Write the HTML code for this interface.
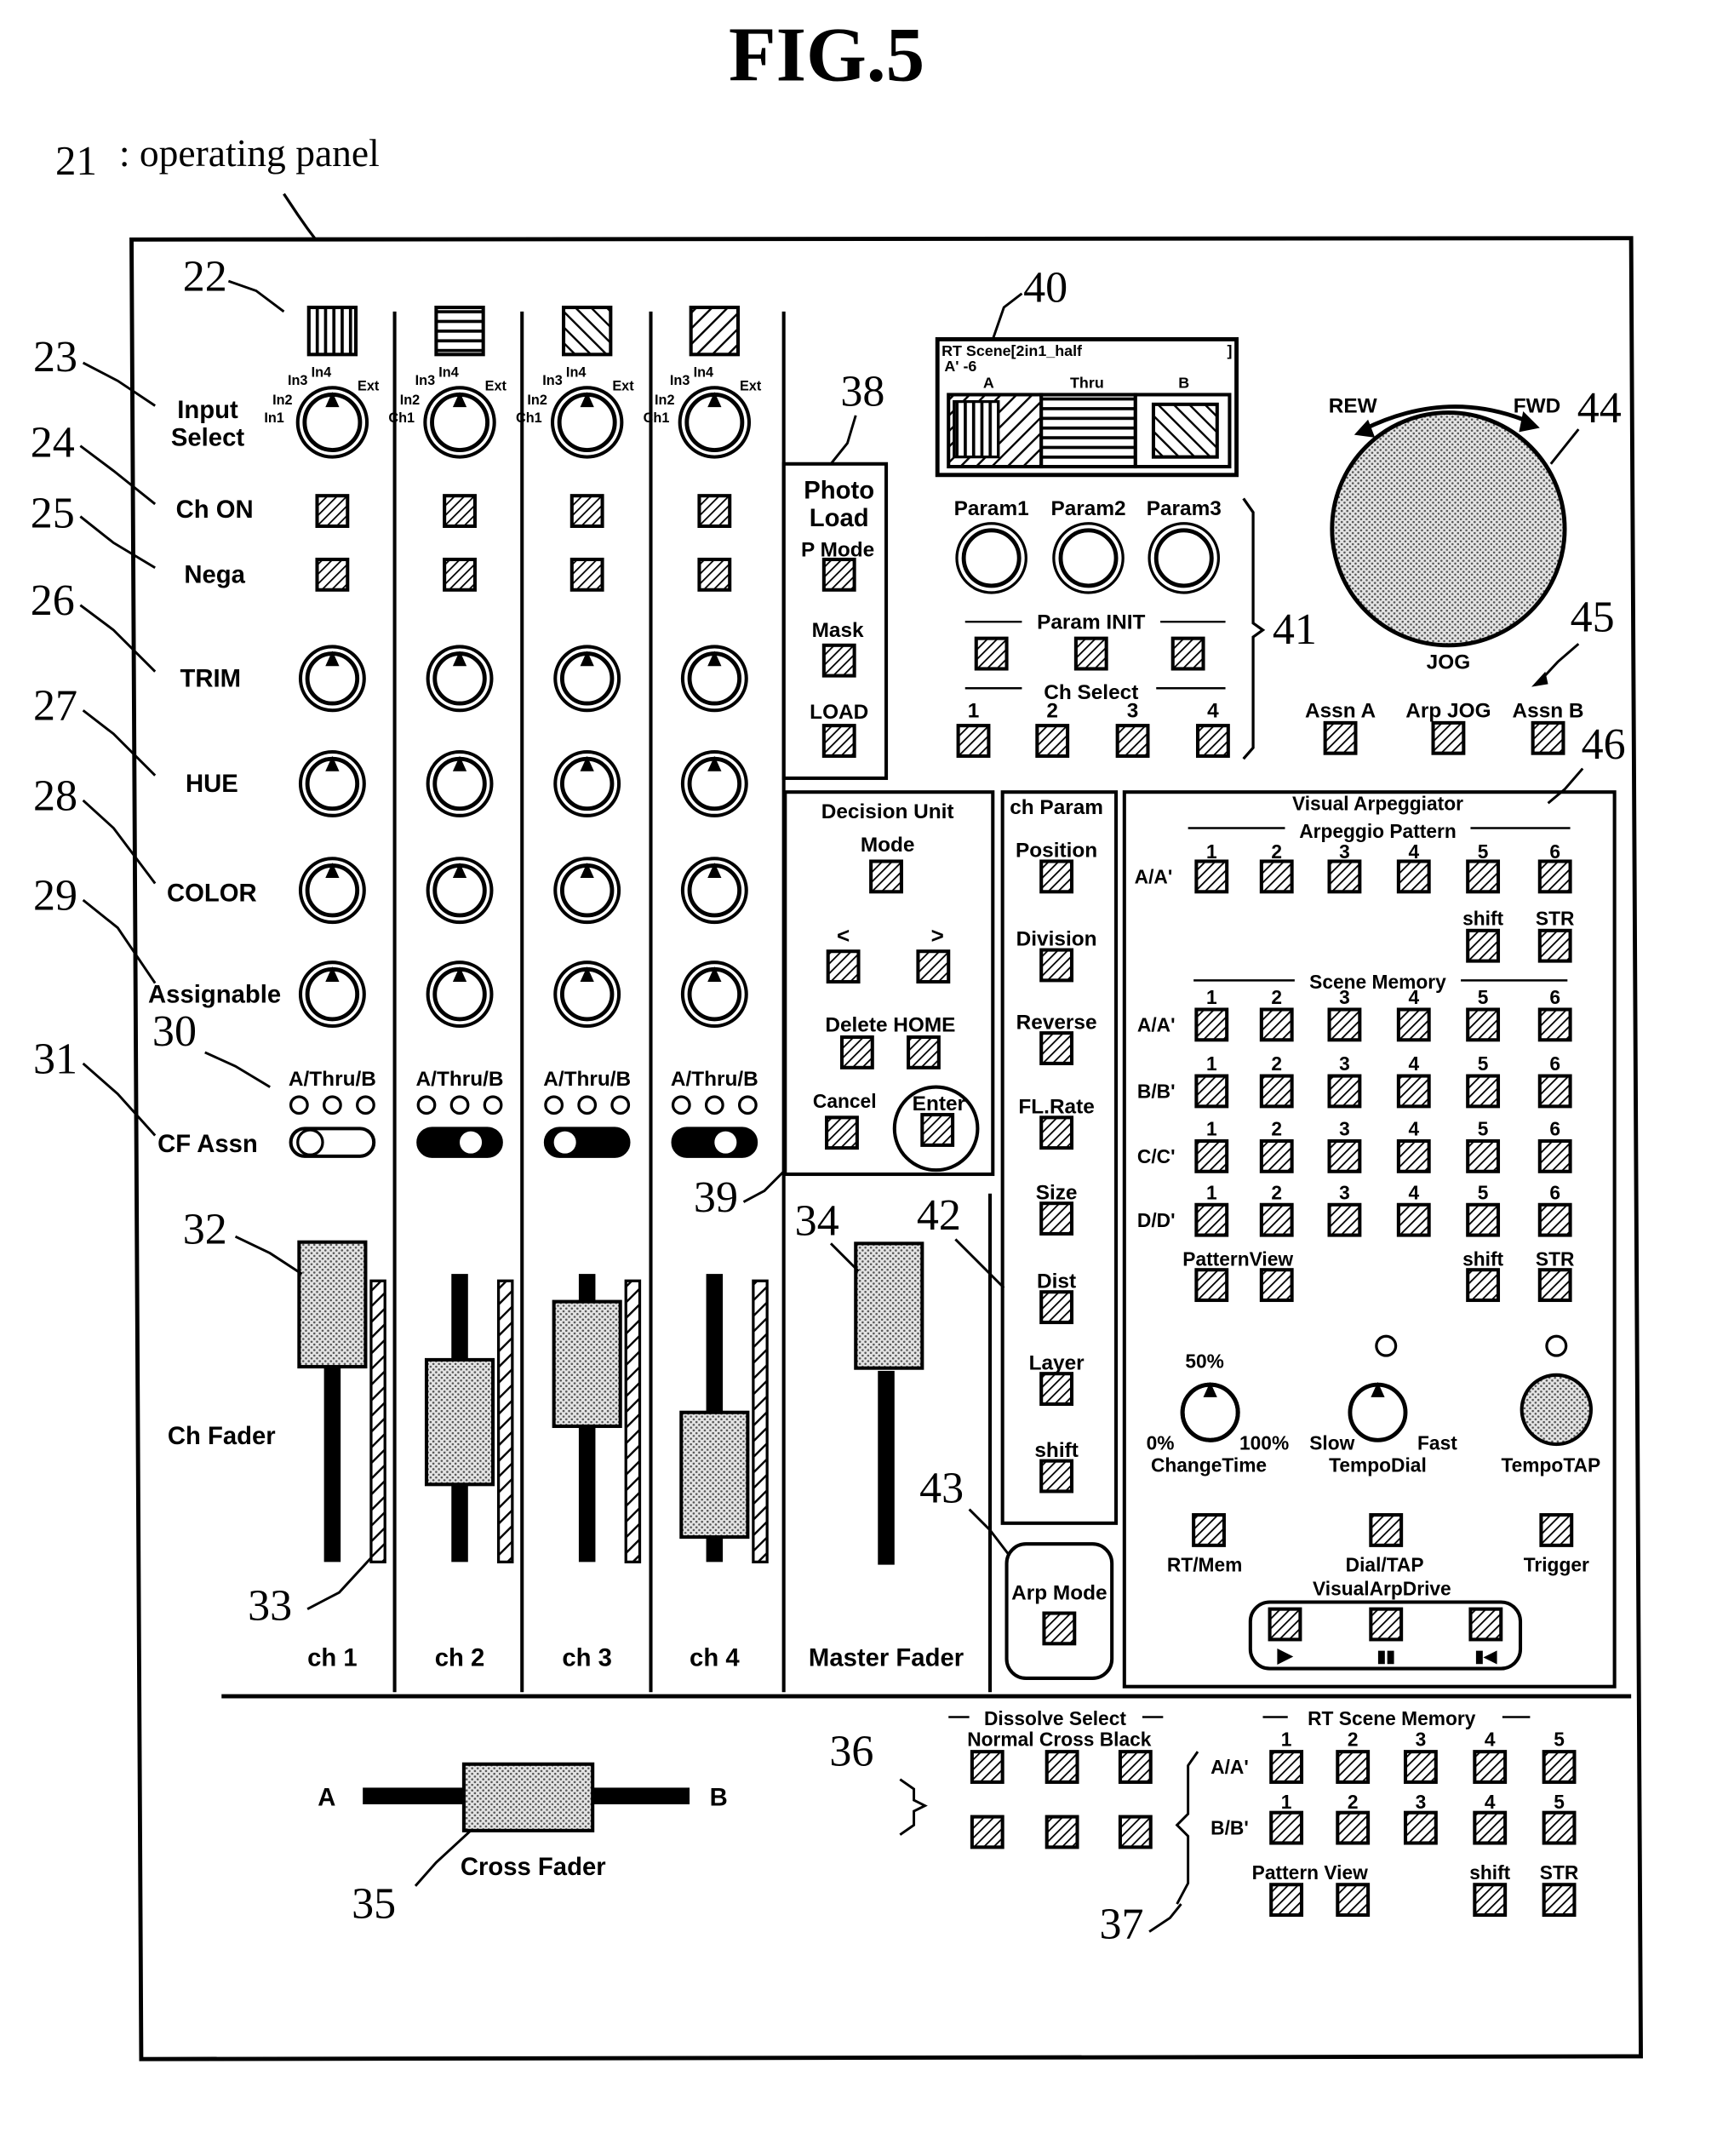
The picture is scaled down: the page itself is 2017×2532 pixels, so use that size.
<!DOCTYPE html>
<html><head><meta charset="utf-8"><style>html,body{margin:0;padding:0;background:#fff}svg{display:block}</style></head>
<body>
<svg id="s" xmlns="http://www.w3.org/2000/svg" width="2017" height="2532" viewBox="0 0 1240 1557" preserveAspectRatio="none">
<defs>
<pattern id="h" width="5" height="5" patternUnits="userSpaceOnUse" patternTransform="rotate(45)"><rect width="5" height="5" fill="#fff"/><line x1="0" y1="0" x2="0" y2="5" stroke="#000" stroke-width="2.2"/></pattern>
<pattern id="hb" width="8" height="8" patternUnits="userSpaceOnUse" patternTransform="rotate(-45)"><rect width="8" height="8" fill="#fff"/><line x1="0" y1="0" x2="0" y2="8" stroke="#000" stroke-width="3"/></pattern>
<pattern id="hf" width="8" height="8" patternUnits="userSpaceOnUse" patternTransform="rotate(45)"><rect width="8" height="8" fill="#fff"/><line x1="0" y1="0" x2="0" y2="8" stroke="#000" stroke-width="3"/></pattern>
<pattern id="hv" width="6" height="6" patternUnits="userSpaceOnUse"><rect width="6" height="6" fill="#fff"/><line x1="1" y1="0" x2="1" y2="6" stroke="#000" stroke-width="2.5"/></pattern>
<pattern id="hh" width="7" height="7" patternUnits="userSpaceOnUse"><rect width="7" height="7" fill="#fff"/><line x1="0" y1="1" x2="7" y2="1" stroke="#000" stroke-width="2.5"/></pattern>
<pattern id="d" width="4" height="4" patternUnits="userSpaceOnUse"><rect width="4" height="4" fill="#e4e4e4"/><circle cx="1" cy="1" r="0.8" fill="#555"/><circle cx="3" cy="3" r="0.8" fill="#555"/></pattern>
</defs>
<g id="g" font-family="Liberation Sans, sans-serif" font-weight="bold" fill="#000"></g>
</svg>
<script>
var G=document.getElementById('g'),NS='http://www.w3.org/2000/svg';
function el(t,a,txt){var e=document.createElementNS(NS,t);for(var k in a)e.setAttribute(k,a[k]);if(txt!=null)e.textContent=txt;G.appendChild(e);return e;}
function T(x,y,s,sz,an,ff){el('text',{x:x,y:y,'font-size':sz||16,'text-anchor':an||'middle','font-family':ff||'Liberation Sans, sans-serif'},s);}
function N(x,y,s){el('text',{x:x,y:y,'font-size':32,'text-anchor':'middle','font-family':'Liberation Serif, serif','font-weight':'normal'},s);}
function L(pts,w){el('polyline',{points:pts,fill:'none',stroke:'#000','stroke-width':w||2});}
function R(x,y,w,h,f,sw,rx){el('rect',{x:x,y:y,width:w,height:h,fill:f||'none',stroke:'#000','stroke-width':sw==null?2:sw,rx:rx||0});}
function C(x,y,r,f,sw){el('circle',{cx:x,cy:y,r:r,fill:f||'none',stroke:'#000','stroke-width':sw||2});}
function B(x,y){R(x-11,y-11,22,22,'url(#h)',2.5);}
function K(x,y,r,ring){if(ring)C(x,y,r+5,'#fff',2.5);C(x,y,r,'#fff',3);el('polygon',{points:(x-5)+','+(y-r+9)+' '+(x+5)+','+(y-r+9)+' '+x+','+(y-r-2)});}
// title
el('text',{x:597,y:58,'font-size':56,'text-anchor':'middle','font-family':'Liberation Serif, serif'},'FIG.5');
el('text',{x:40,y:126,'font-size':30,'font-family':'Liberation Serif, serif','font-weight':'normal'},'21');
el('text',{x:86,y:120,'font-size':28,'font-family':'Liberation Serif, serif','font-weight':'normal'},': operating panel');
L('205,140 215,155 222,165 228,173');
el('polygon',{points:'95,173 1178,172 1185,1485 102,1487',fill:'none',stroke:'#000','stroke-width':3});
// separators
[285,377,470,566].forEach(function(x){L(x+',225 '+x+',1222',2.5)});
L('715,862 715,1222',2.5);L('160,1225 1178,1225',3);
var cx=[240,332,424,516],pat=['url(#hv)','url(#hh)','url(#hb)','url(#hf)'];
cx.forEach(function(x,i){
 R(x-17,222,34,34,pat[i],2.5);
 K(x,305,20,true);
 T(x-25,278,'In3',10);T(x-8,272,'In4',10);T(x+26,282,'Ext',10);T(x-36,292,'In2',10);T(x-42,305,i==0?'In1':'Ch1',10);
 B(x,369);B(x,415);
 [490,566,643,718].forEach(function(y){K(x,y,18,true)});
 T(x,784,'A/Thru/B',15);
 [-24,0,24].forEach(function(o){C(x+o,798,6,'#fff',2)});
 R(x-30,815,60,20,i==0?'#fff':'#000',2.5,10);
 C(i%2?x+8:x-16,825,9,'#fff',2);
 T(x,1203,'ch '+(i+1),18);
});
// faders
var fy=[897,982,940,1020];
cx.forEach(function(x,i){
 R(x-6,i==0?985:920,12,i==0?143:208,'#000',0);
 R(x+28,925,10,203,'url(#hf)',2);
 R(x-24,fy[i],48,90,'url(#d)',2.5);
});
// left labels
T(150,302,'Input',18);T(150,322,'Select',18);T(155,374,'Ch ON',18);T(155,421,'Nega',18);T(152,496,'TRIM',18);T(153,572,'HUE',18);T(153,651,'COLOR',18);T(155,724,'Assignable',18);T(150,832,'CF Assn',18);T(160,1043,'Ch Fader',18);
var nums=[[148,210,'22','165,203 185,210 205,225'],[40,268,'23','60,262 85,275 112,293'],[38,330,'24','58,322 82,340 112,364'],[38,381,'25','58,373 82,392 112,410'],[38,444,'26','58,437 82,455 112,485'],[40,520,'27','60,513 82,530 112,560'],[40,585,'28','60,578 82,598 112,638'],[40,657,'29','60,650 85,670 112,710'],[126,755,'30','148,760 170,770 195,785'],[40,775,'31','60,768 85,790 112,820'],[148,898,'32','170,893 195,905 218,920'],[195,1170,'33','222,1162 245,1150 268,1125']];
nums.forEach(function(n){N(n[0],n[1],n[2]);L(n[3],1.8)});
// Master fader
R(634,990,12,140,'#000',0);R(618,898,48,90,'url(#d)',2.5);
T(640,1203,'Master Fader',18);
N(590,892,'34');L('600,898 612,910 620,918',1.8);N(678,888,'42');L('690,895 705,910 725,930',1.8);N(680,1085,'43');L('700,1090 715,1105 728,1122',1.8);
// Photo load
R(566,335,74,227,'none',2.5);T(606,360,'Photo',18);T(606,380,'Load',18);T(605,402,'P Mode',15);B(606,415);T(605,460,'Mask',15);B(606,477);T(606,519,'LOAD',15);B(606,535);
N(623,293,'38');L('618,300 612,320 600,335',1.8);
// display 40
N(755,218,'40');L('738,212 725,222 717,245',1.8);
R(677,245,216,98,'#fff',3);
T(680,257,'RT   Scene[2in1_half',11,'start');T(888,257,']',11);T(682,268,'A\'  -6',11,'start');
T(714,280,'A',11);T(785,280,'Thru',11);T(855,280,'B',11);
R(685,285,67,52,'url(#hf)',2.5);R(689,290,32,40,'url(#hv)',2);R(752,285,68,52,'url(#hh)',2.5);R(820,285,68,52,'#fff',2.5);R(833,292,46,38,'url(#hb)',2.5);
// params
[[716,'Param1'],[786,'Param2'],[855,'Param3']].forEach(function(p){T(p[0],372,p[1],15);C(p[0],403,20,'#fff',3);C(p[0],403,25,'none',2)});
L('697,449 738,449',1.5);L('838,449 885,449',1.5);T(788,454,'Param  INIT',15);
[716,788,858].forEach(function(x){B(x,472)});
L('697,497 738,497',1.5);L('835,497 885,497',1.5);T(788,505,'Ch   Select',15);
[703,760,818,876].forEach(function(x,i){T(x,518,''+(i+1),15);B(x,535)});
L('898,360 905,370 905,450 912,455 905,460 905,540 898,548',2);N(935,465,'41');
// jog
C(1046,382,84,'url(#d)',3);T(977,298,'REW',15);T(1110,298,'FWD',15);
el('path',{d:'M985,310 Q1046,280 1105,305',fill:'none',stroke:'#000','stroke-width':3});
el('polygon',{points:'988,303 978,314 993,316'});el('polygon',{points:'1100,297 1112,309 1097,312'});
N(1155,305,'44');L('1140,310 1128,325 1120,335',1.8);
T(1046,483,'JOG',15);N(1150,456,'45');L('1140,465 1125,478 1112,492',1.8);el('polygon',{points:'1106,496 1116,485 1118,494'});
T(968,518,'Assn A',15);B(968,533);T(1046,518,'Arp JOG',15);B(1046,533);T(1118,518,'Assn B',15);B(1118,533);
N(1158,548,'46');L('1143,555 1130,570 1118,580',1.8);
// decision unit
R(567,572,150,276,'none',2.5);T(641,591,'Decision Unit',15);T(641,615,'Mode',15);B(640,633);
T(609,681,'<',16);T(677,681,'>',16);B(609,698);B(674,698);
T(643,745,'Delete HOME',15);B(619,760);B(667,760);T(610,800,'Cancel',14);B(608,818);
C(676,815,30,'none',2.5);T(678,802,'Enter',15);B(677,816);
N(517,875,'39');L('537,868 552,860 567,845',1.8);
// ch param
R(724,572,82,528,'none',2.5);T(763,588,'ch Param',15);
[['Position',633],['Division',697],['Reverse',757],['FL.Rate',818],['Size',880],['Dist',944],['Layer',1003],['shift',1066]].forEach(function(p){T(763,p[1]-14,p[0],15);B(763,p[1])});
R(727,1115,76,97,'none',2.5,14);T(765,1155,'Arp Mode',15);B(765,1176);
// visual arpeggiator
R(812,572,354,646,'none',2.5);T(995,585,'Visual Arpeggiator',14);
L('858,598 928,598',1.5);L('1062,598 1134,598',1.5);T(995,605,'Arpeggio Pattern',14);
var ax=[875,922,971,1021,1071,1123];
ax.forEach(function(x,i){T(x,620,''+(i+1),14);B(x,633)});T(833,638,'A/A\'',14);
T(1071,668,'shift',14);T(1123,668,'STR',14);B(1071,683);B(1123,683);
L('862,708 935,708',1.5);L('1055,708 1132,708',1.5);T(995,714,'Scene Memory',14);
[['A/A\'',740],['B/B\'',788],['C/C\'',835],['D/D\'',881]].forEach(function(r){T(835,r[1]+5,r[0],14);ax.forEach(function(x,i){T(x,r[1]-15,''+(i+1),14);B(x,r[1])})});
T(894,914,'PatternView',14);B(875,928);B(922,928);T(1071,914,'shift',14);T(1123,914,'STR',14);B(1071,928);B(1123,928);
T(870,988,'50%',14);K(874,1020,20,false);C(874,1020,20,'none',3);T(838,1047,'0%',14);T(913,1047,'100%',14);T(873,1063,'ChangeTime',14);
C(1001,972,7,'#fff',2);K(995,1020,20,false);T(962,1047,'Slow',14);T(1038,1047,'Fast',14);T(995,1063,'TempoDial',14);
C(1124,972,7,'#fff',2);C(1124,1018,25,'url(#d)',2.5);T(1120,1063,'TempoTAP',14);
B(873,1105);T(870,1135,'RT/Mem',14);B(1001,1105);T(1000,1135,'Dial/TAP',14);B(1124,1105);T(1124,1135,'Trigger',14);
T(998,1152,'VisualArpDrive',14);R(903,1157,195,48,'none',2.5,14);
B(928,1173);B(1001,1173);B(1073,1173);T(928,1200,'▶',14);T(1001,1200,'▮▮',12);T(1073,1200,'▮◀',12);
// cross fader
R(262,1291,236,12,'#000',0);R(335,1274,93,48,'url(#d)',2.5);T(236,1304,'A',18);T(519,1304,'B',18);T(385,1354,'Cross Fader',18);
N(270,1385,'35');L('300,1362 315,1345 340,1322',1.8);
// dissolve
L('685,1240 700,1240',1.5);L('825,1240 840,1240',1.5);T(762,1246,'Dissolve Select',14);T(765,1261,'Normal Cross  Black',14);
[713,767,820].forEach(function(x){B(x,1276);B(x,1323)});
N(615,1275,'36');L('650,1285 660,1292 660,1300 668,1304 660,1308 660,1318 650,1325',1.8);
// RT scene memory
L('912,1240 930,1240',1.5);L('1085,1240 1105,1240',1.5);T(1005,1246,'RT Scene Memory',14);
var rx=[929,977,1026,1076,1126];
rx.forEach(function(x,i){T(x,1261,''+(i+1),14);B(x,1276);T(x,1306,''+(i+1),14);B(x,1320)});
T(888,1281,'A/A\'',14);T(888,1325,'B/B\'',14);
T(946,1357,'Pattern View',14);B(929,1372);B(977,1372);T(1076,1357,'shift',14);T(1126,1357,'STR',14);B(1076,1372);B(1126,1372);
L('865,1265 858,1275 858,1310 850,1318 858,1326 858,1360 850,1375',1.8);
N(810,1400,'37');L('830,1395 845,1385 853,1375',1.8);
</script>
</body></html>
